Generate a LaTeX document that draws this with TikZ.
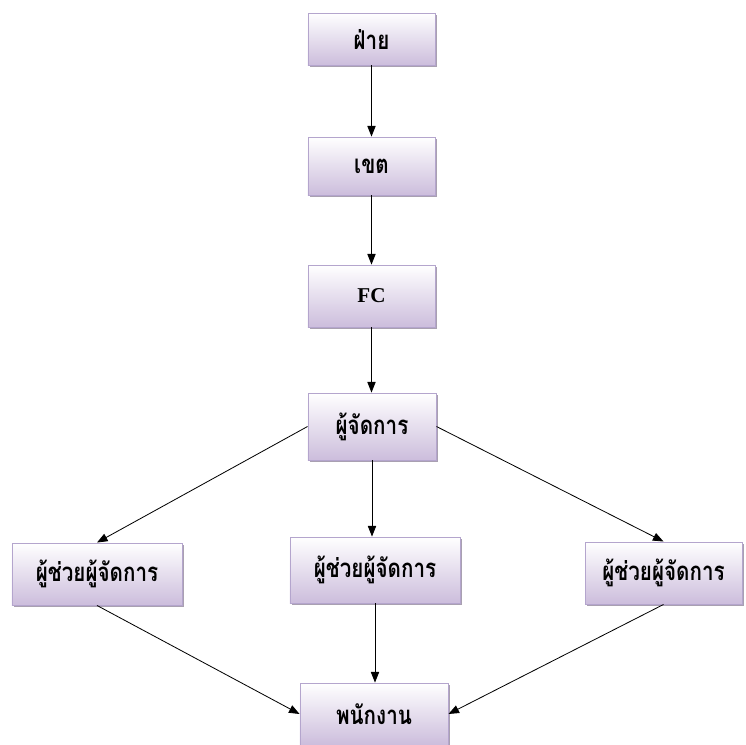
\documentclass[tikz,border=0pt]{standalone}
\usepackage{fontspec}
\setmainfont{Liberation Serif}
\newfontfamily\thaifont[Script=Thai]{Loma}
\usetikzlibrary{arrows.meta,shadows}

\definecolor{boxtop}{RGB}{255,255,255}
\definecolor{boxbottom}{RGB}{204,189,220}
\definecolor{boxline}{RGB}{180,165,205}
\definecolor{boxshadow}{RGB}{160,150,168}

% condensed bold Thai label
\newcommand{\thaitxt}[1]{\scalebox{0.8}[1]{\thaifont\bfseries\fontsize{22}{26}\selectfont #1}}

\tikzset{
  orgbox/.style={draw=boxline, line width=0.8pt, top color=boxtop, bottom color=boxbottom,
    drop shadow={shadow xshift=2pt, shadow yshift=-2pt, fill=boxshadow, opacity=0.9},
    inner sep=0pt},
  link/.style={-{Triangle[length=9pt,width=7pt]}, line width=0.7pt}
}

\begin{document}
\begin{tikzpicture}[x=0.03cm,y=-0.03cm]

    \useasboundingbox (0,0) rectangle (745,745);

    \node [orgbox, minimum width=3.81cm, minimum height=1.56cm] (fay) at (371.5,39) {\thaitxt{ฝ่าย}};
    \node [orgbox, minimum width=3.81cm, minimum height=1.74cm] (khet) at (371.5,166) {\thaitxt{เขต}};
    \node [orgbox, minimum width=3.81cm, minimum height=1.86cm] (fc) at (371.5,296) {\bfseries\fontsize{18}{20}\selectfont FC};
    \node [orgbox, minimum width=3.84cm, minimum height=2.01cm] (mgr) at (372,426.5) {\thaitxt{ผู้จัดการ}};

    \node [orgbox, minimum width=5.1cm, minimum height=1.86cm] (asstL) at (97,574) {\thaitxt{ผู้ช่วยผู้จัดการ}};
    \node [orgbox, minimum width=5.1cm, minimum height=1.98cm] (asstM) at (375,570) {\thaitxt{ผู้ช่วยผู้จัดการ}};
    \node [orgbox, minimum width=4.71cm, minimum height=1.86cm] (asstR) at (663.5,573) {\thaitxt{ผู้ช่วยผู้จัดการ}};

    \node [orgbox, minimum width=4.44cm, minimum height=1.86cm] (staff) at (374,714) {\thaitxt{พนักงาน}};

    \draw [link] (fay) -- (khet);
    \draw [link] (khet) -- (fc);
    \draw [link] (fc.south) -- (fc.south |- mgr.north);

    \draw [link] (mgr.west) -- (asstL.north);
    \draw [link] (mgr.south) -- (mgr.south |- asstM.north);
    \draw [link] (mgr.east) -- (asstR.north);

    \draw [link] (asstL.south) -- (staff.west);
    \draw [link] (asstM.south) -- (asstM.south |- staff.north);
    \draw [link] (asstR.south) -- (staff.east);

\end{tikzpicture}
\end{document}
